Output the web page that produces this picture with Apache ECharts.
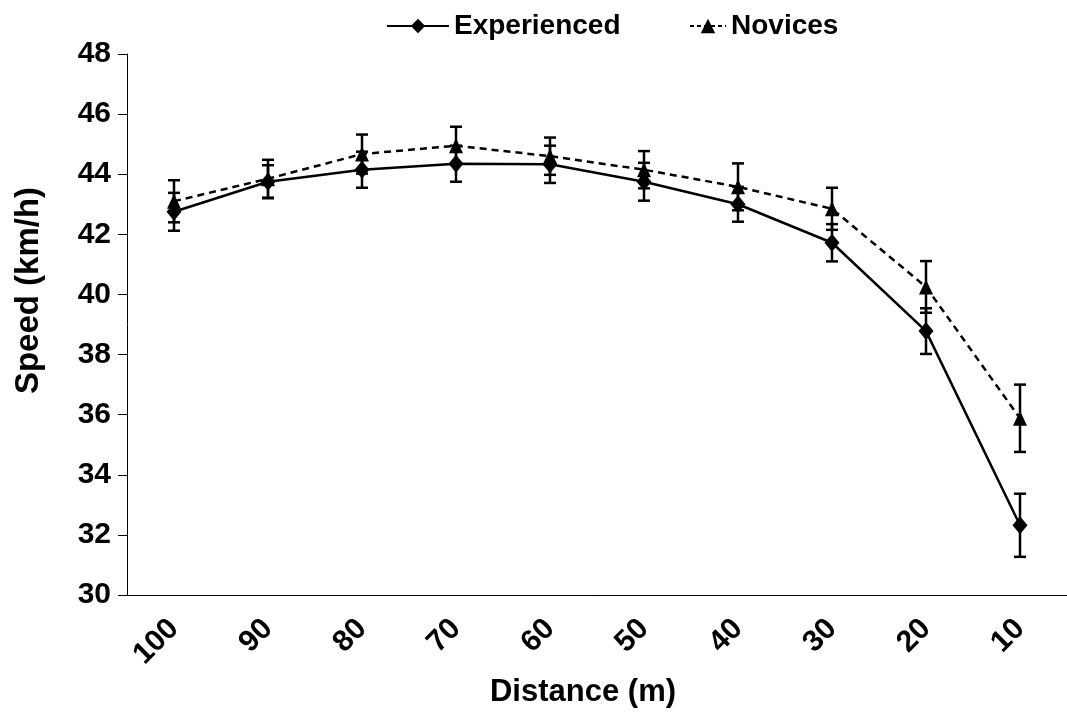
<!DOCTYPE html>
<html><head><meta charset="utf-8">
<script src="https://cdn.jsdelivr.net/npm/echarts@6/dist/echarts.min.js"></script>
<style>html,body{margin:0;padding:0;background:#fff}#c{width:1067px;height:720px}</style>
</head><body><div id="c"></div>
<script>
const categories = ['100','90','80','70','60','50','40','30','20','10'];
const experienced = [42.75, 43.75, 44.15, 44.35, 44.33, 43.75, 43.0, 41.72, 38.78, 32.32];
const experiencedErr = [0.63, 0.55, 0.6, 0.6, 0.62, 0.63, 0.58, 0.62, 0.76, 1.05];
const novices = [43.1, 43.85, 44.67, 44.95, 44.6, 44.15, 43.58, 42.85, 40.25, 35.88];
const novicesErr = [0.7, 0.63, 0.65, 0.63, 0.62, 0.62, 0.78, 0.7, 0.86, 1.12];
const yTicks = {min: 30, max: 48, interval: 2};

const FONT = 'Liberation Sans, Arial, sans-serif';

function errData(mean, err){
  return mean.map((m,i)=>[i, m-err[i], m+err[i]]);
}
function renderErr(params, api){
  const x = api.value(0);
  const lo = api.coord([x, api.value(1)]);
  const hi = api.coord([x, api.value(2)]);
  const w = 6;
  const st = {stroke:'#000', lineWidth:2.5};
  return {type:'group', children:[
    {type:'line', shape:{x1:hi[0],y1:hi[1],x2:lo[0],y2:lo[1]}, style:st},
    {type:'line', shape:{x1:hi[0]-w,y1:hi[1],x2:hi[0]+w,y2:hi[1]}, style:st},
    {type:'line', shape:{x1:lo[0]-w,y1:lo[1],x2:lo[0]+w,y2:lo[1]}, style:st}
  ]};
}

const legendText = {fontFamily:FONT, fontWeight:'bold', fontSize:28, color:'#000'};
const chart = echarts.init(document.getElementById('c'));
chart.setOption({
  animation:false,
  backgroundColor:'#fff',
  legend:[
    {left:381, top:7, itemWidth:62, itemHeight:18, data:['Experienced'], textStyle:legendText},
    {left:684, top:7, itemWidth:36, itemHeight:18, data:['Novices'], textStyle:legendText,
     lineStyle:{type:[4,3], width:2}}
  ],
  grid:{left:127, top:54, width:947, bottom:125, containLabel:false},
  xAxis:{
    type:'category', data:categories, boundaryGap:true,
    name:'Distance (m)', nameLocation:'middle', nameGap:78,
    nameTextStyle:{fontFamily:FONT, fontWeight:'bold', fontSize:31, color:'#000', padding:[0,28,0,0]},
    axisLine:{lineStyle:{color:'#000', width:1}},
    axisTick:{alignWithLabel:false, length:9, lineStyle:{color:'#000'}},
    axisLabel:{rotate:45, margin:29, fontFamily:FONT, fontWeight:'bold', fontSize:30, color:'#000'}
  },
  yAxis:{
    type:'value', min:yTicks.min, max:yTicks.max, interval:yTicks.interval,
    name:'Speed (km/h)', nameLocation:'middle', nameGap:82,
    nameTextStyle:{fontFamily:FONT, fontWeight:'bold', fontSize:33, color:'#000', padding:[0,0,0,68]},
    axisLine:{show:true, lineStyle:{color:'#000', width:1}},
    axisTick:{show:true, length:9, lineStyle:{color:'#000'}},
    splitLine:{show:false},
    axisLabel:{margin:16, fontFamily:FONT, fontWeight:'bold', fontSize:30, color:'#000'}
  },
  series:[
    {type:'custom', name:'errExp', renderItem:renderErr, data:errData(experienced, experiencedErr), z:1, silent:true, encode:{x:0, y:[1,2]}},
    {type:'custom', name:'errNov', renderItem:renderErr, data:errData(novices, novicesErr), z:1, silent:true, encode:{x:0, y:[1,2]}},
    {type:'line', name:'Experienced', data:experienced, z:3,
     symbol:'diamond', symbolSize:[15,18],
     itemStyle:{color:'#000'}, lineStyle:{color:'#000', width:2.5, type:'solid'}},
    {type:'line', name:'Novices', data:novices, z:3,
     symbol:'triangle', symbolSize:[14,15],
     itemStyle:{color:'#000'}, lineStyle:{color:'#000', width:2.5, type:[7,5]}}
  ]
});
</script></body></html>
